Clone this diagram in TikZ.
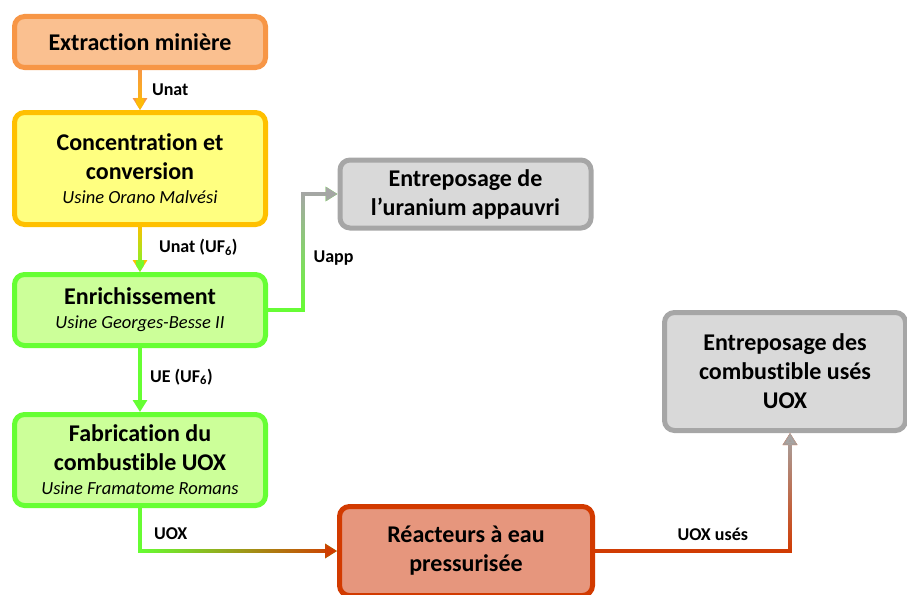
\documentclass[tikz,border=0pt]{standalone}
\usepackage{fontspec}
\setmainfont{Carlito}[Ligatures=NoCommon]
\usetikzlibrary{arrows.meta,fadings}
\definecolor{orangeb}{HTML}{F79646}
\definecolor{orangef}{HTML}{FAC090}
\definecolor{jauneb}{HTML}{FFC000}
\definecolor{jaunef}{HTML}{FFFF80}
\definecolor{vertb}{HTML}{66FF33}
\definecolor{vertf}{HTML}{CCFF99}
\definecolor{grisb}{HTML}{A6A6A6}
\definecolor{grisf}{HTML}{D9D9D9}
\definecolor{rougeb}{HTML}{D23A00}
\definecolor{rougef}{HTML}{E6967D}
\tikzfading[name=versbas, top color=transparent!100, bottom color=transparent!0]
\tikzfading[name=vershaut, top color=transparent!0, bottom color=transparent!100]
\tikzfading[name=versdroite, left color=transparent!100, right color=transparent!0]
\newcommand{\usine}[1]{{\fontsize{18.5}{21}\selectfont\mdseries\itshape #1}}

\begin{document}
\begin{tikzpicture}[x=1pt,y=-1pt,
  etape/.style={draw, line width=5pt, rounded corners=10pt, minimum width=251pt,
    align=center, inner sep=2pt, font=\fontsize{24}{29}\selectfont\bfseries},
  fleche/.style={line width=4pt, -{Triangle[length=12pt,width=14pt]}},
  lbl/.style={inner sep=0pt, font=\fontsize{18}{20}\selectfont\bfseries}]
\useasboundingbox (0,0) rectangle (907,594);
% les etapes
\node[etape, draw=orangeb, fill=orangef, minimum height=51pt] (extraction) at (140,42) {Extraction minière};
\node[etape, draw=jauneb, fill=jaunef, minimum height=112pt] (concentration) at (140,168.5) {Concentration et\\conversion\\[-5pt]\usine{Usine Orano Malvési}};
\node[etape, draw=vertb, fill=vertf, minimum height=71pt] (enrichissement) at (140,310) {Enrichissement\\[-5pt]\usine{Usine Georges-Besse II}};
\node[etape, draw=vertb, fill=vertf, minimum height=91pt] (fabrication) at (140,460) {Fabrication du\\combustible UOX\\[-5pt]\usine{Usine Framatome Romans}};
\node[etape, draw=grisb, fill=grisf, minimum height=68pt] (stockuapp) at (465.5,194) {Entreposage de\\l’uranium appauvri};
\node[etape, draw=grisb, fill=grisf, minimum width=241pt, minimum height=118pt] (stockuox) at (785,371.5) {Entreposage des\\combustible usés\\UOX};
\node[etape, draw=rougeb, fill=rougef, minimum width=253pt, minimum height=89pt] (reacteur) at (466,551) {Réacteurs à eau\\pressurisée};
% les flux
\draw[fleche, draw=orangeb] (extraction.south) -- node[lbl, right=10pt] {Unat} (concentration.north);
\draw[fleche, draw=jauneb, path fading=versbas] (extraction.south) -- (concentration.north);
\draw[fleche, draw=jauneb] (concentration.south) -- node[lbl, right=17pt, yshift=2pt] {Unat (UF\textsubscript{6})} (enrichissement.north);
\draw[fleche, draw=vertb, path fading=versbas] (concentration.south) -- (enrichissement.north);
\draw[fleche, draw=vertb] (enrichissement.south) -- node[lbl, right=8pt, yshift=3pt] {UE (UF\textsubscript{6})} (fabrication.north);
\draw[fleche, draw=vertb] (enrichissement.east) -| node[lbl, pos=0.75, right=9pt, yshift=-6pt] {Uapp} ([xshift=-35pt]stockuapp.west) -- (stockuapp.west);
\draw[fleche, draw=grisb, path fading=vershaut] (enrichissement.east) -| ([xshift=-35pt]stockuapp.west) -- (stockuapp.west);
\draw[fleche, draw=vertb] (fabrication.south) |- node[lbl, pos=0.5, anchor=south west, xshift=12pt, yshift=9pt] {UOX} (reacteur.west);
\draw[fleche, draw=rougeb, path fading=versdroite] (fabrication.south) |- (reacteur.west);
\draw[fleche, draw=rougeb] (reacteur.east) -| node[lbl, pos=0.5, anchor=south east, xshift=-40pt, yshift=8pt] {UOX usés} ([xshift=5pt]stockuox.south);
\draw[fleche, draw=grisb, path fading=vershaut] (reacteur.east) -| ([xshift=5pt]stockuox.south);
\end{tikzpicture}
\end{document}
